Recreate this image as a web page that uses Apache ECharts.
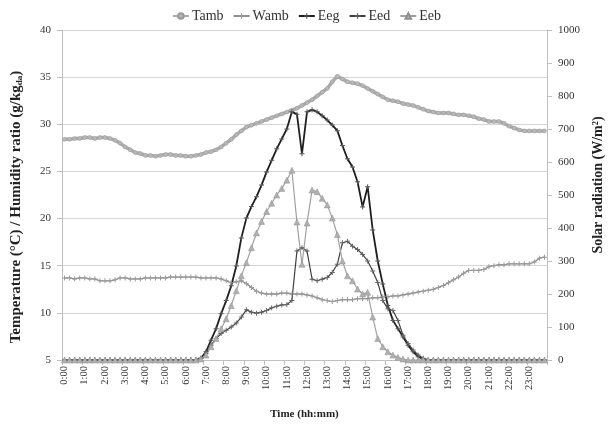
<!DOCTYPE html>
<html>
<head>
<meta charset="utf-8">
<script src="https://cdn.jsdelivr.net/npm/echarts@6/dist/echarts.min.js"></script>
<style>
html,body{margin:0;padding:0;background:#fff;}
#chart{width:613px;height:427px;}
</style>
</head>
<body>
<div id="chart"></div>
<script>
// Time categories: every 15 minutes, 0:00 .. 23:45
var times = [];
for (var h = 0; h < 24; h++) {
  ['00','15','30','45'].forEach(function(m){ times.push(h + ':' + m); });
}

var leftTicks = { min: 5, max: 40, interval: 5 };
var rightTicks = { min: 0, max: 1000, interval: 100 };

var tamb = [
  28.4,28.4,28.5,28.5, 28.6,28.6,28.5,28.6, 28.6,28.5,28.3,28.0, 27.6,27.3,27.0,26.9,
  26.7,26.7,26.6,26.7, 26.8,26.8,26.7,26.7, 26.6,26.6,26.7,26.8, 27.0,27.1,27.3,27.6,
  28.0,28.4,28.9,29.3, 29.7,29.9,30.1,30.3, 30.5,30.7,30.9,31.1, 31.3,31.5,31.7,32.0,
  32.3,32.6,33.0,33.4, 33.8,34.5,35.1,34.8, 34.5,34.4,34.3,34.1, 33.8,33.5,33.2,32.9,
  32.6,32.5,32.4,32.2, 32.1,32.0,31.8,31.6, 31.4,31.3,31.2,31.2, 31.2,31.1,31.0,31.0,
  30.9,30.8,30.6,30.5, 30.3,30.3,30.3,30.1, 29.8,29.6,29.4,29.3, 29.3,29.3,29.3,29.3
];
var wamb = [
  13.7,13.7,13.6,13.7, 13.7,13.6,13.6,13.4, 13.4,13.4,13.5,13.7, 13.7,13.6,13.6,13.6,
  13.7,13.7,13.7,13.7, 13.7,13.8,13.8,13.8, 13.8,13.8,13.8,13.7, 13.7,13.7,13.7,13.6,
  13.4,13.2,13.3,13.4, 13.1,12.7,12.3,12.1, 12.0,12.0,12.0,12.1, 12.1,12.0,12.0,12.0,
  11.9,11.8,11.6,11.4, 11.3,11.2,11.3,11.4, 11.4,11.4,11.5,11.5, 11.5,11.6,11.6,11.7,
  11.7,11.8,11.8,11.9, 12.0,12.1,12.2,12.3, 12.4,12.5,12.7,12.9, 13.2,13.5,13.8,14.2,
  14.5,14.5,14.5,14.6, 14.9,15.0,15.1,15.1, 15.2,15.2,15.2,15.2, 15.2,15.4,15.8,15.9
];
var eeg = [
  0,0,0,0, 0,0,0,0, 0,0,0,0, 0,0,0,0, 0,0,0,0, 0,0,0,0,
  0,0,0,5, 25,60,95,140, 180,225,285,370, 430,465,495,530,
  570,605,640,670, 700,752,745,625, 752,758,752,740, 727,712,695,650,
  610,585,540,464, 525,394,300,230, 165,120,95,70, 45,25,10,3,
  0,0,0,0, 0,0,0,0, 0,0,0,0, 0,0,0,0, 0,0,0,0, 0,0,0,0
];
var eed = [
  0,0,0,0, 0,0,0,0, 0,0,0,0, 0,0,0,0, 0,0,0,0, 0,0,0,0,
  0,0,0,5, 20,45,65,80, 90,100,112,130, 152,145,142,145,
  150,158,163,167, 168,180,330,340, 330,245,240,245, 250,265,290,355,
  360,345,335,320, 300,270,235,180, 155,150,120,75, 50,30,15,5,
  0,0,0,0, 0,0,0,0, 0,0,0,0, 0,0,0,0, 0,0,0,0, 0,0,0,0
];
var eeb = [
  0,0,0,0, 0,0,0,0, 0,0,0,0, 0,0,0,0, 0,0,0,0, 0,0,0,0,
  0,0,0,3, 15,40,65,95, 125,165,210,255, 295,340,385,420,
  450,475,500,520, 545,575,418,290, 415,515,510,490, 470,430,380,300,
  255,240,215,200, 205,130,65,40, 25,15,8,3, 0,0,0,0,
  0,0,0,0, 0,0,0,0, 0,0,0,0, 0,0,0,0, 0,0,0,0, 0,0,0,0
];

var FONT = '"Liberation Serif", "Times New Roman", serif';
var PLUS = 'path://M4,0h2v4h4v2h-4v4h-2v-4h-4v-2h4z';

var chart = echarts.init(document.getElementById('chart'), null, {renderer: 'canvas'});
chart.setOption({
  animation: false,
  backgroundColor: '#fff',
  textStyle: { fontFamily: FONT },
  legend: {
    top: 4,
    left: 'center',
    itemWidth: 16,
    itemHeight: 7,
    itemGap: 9,
    textStyle: { fontFamily: FONT, fontSize: 14, color: '#333', padding: [0, 0, 0, -2] },
    data: ['Tamb', 'Wamb', 'Eeg', 'Eed', 'Eeb']
  },
  grid: { left: 62, right: 58, top: 30, bottom: 67 },
  xAxis: {
    type: 'category',
    data: times,
    boundaryGap: true,
    axisLine: { lineStyle: { color: '#bfbfbf' } },
    axisTick: { show: true, interval: 3, lineStyle: { color: '#bfbfbf' } },
    axisLabel: {
      interval: 3, rotate: 90, fontSize: 10.5, color: '#333', fontFamily: FONT, margin: 6
    },
    name: 'Time (hh:mm)',
    nameLocation: 'middle',
    nameGap: 49,
    nameTextStyle: { fontFamily: FONT, fontWeight: 'bold', fontSize: 11, color: '#222' }
  },
  yAxis: [
    {
      type: 'value',
      position: 'left',
      min: leftTicks.min, max: leftTicks.max, interval: leftTicks.interval,
      axisLine: { show: true, lineStyle: { color: '#bfbfbf' } },
      axisTick: { show: true, lineStyle: { color: '#bfbfbf' } },
      axisLabel: { fontSize: 11, color: '#333', fontFamily: FONT, margin: 11 },
      splitLine: { show: true, lineStyle: { color: '#d4d4d4' } },
      name: 'Temperature (°C) / Humidity ratio (g/kg{sub|da})',
      nameLocation: 'middle',
      nameRotate: 90,
      nameGap: 38,
      nameTextStyle: {
        fontFamily: FONT, fontWeight: 'bold', fontSize: 15, color: '#222', padding: [0, 24, 0, 0],
        rich: { sub: { fontFamily: FONT, fontWeight: 'bold', fontSize: 9, verticalAlign: 'bottom', padding: [7, 0, 0, 0] } }
      }
    },
    {
      type: 'value',
      position: 'right',
      min: rightTicks.min, max: rightTicks.max, interval: rightTicks.interval,
      axisLine: { show: true, lineStyle: { color: '#bfbfbf' } },
      axisTick: { show: true, lineStyle: { color: '#bfbfbf' } },
      axisLabel: { fontSize: 11, color: '#333', fontFamily: FONT, margin: 11, formatter: function(v){ return String(v); } },
      splitLine: { show: false },
      name: 'Solar radiation (W/m²)',
      nameLocation: 'middle',
      nameRotate: 90,
      nameGap: 44,
      nameTextStyle: { fontFamily: FONT, fontWeight: 'bold', fontSize: 14, color: '#222', padding: [0, 0, 0, 20] }
    }
  ],
  series: [
    {
      name: 'Tamb', type: 'line', yAxisIndex: 0, data: tamb,
      showAllSymbol: true, symbol: 'circle', symbolSize: 4,
      lineStyle: { color: '#ababab', width: 3.5 },
      itemStyle: { color: '#b8b8b8', borderColor: '#999', borderWidth: 0.5 }
    },
    {
      name: 'Wamb', type: 'line', yAxisIndex: 0, data: wamb,
      showAllSymbol: true, symbol: PLUS, symbolSize: 5,
      lineStyle: { color: '#8c8c8c', width: 1.3 },
      itemStyle: { color: '#9a9a9a' }
    },
    {
      name: 'Eeg', type: 'line', yAxisIndex: 1, data: eeg,
      showAllSymbol: true, symbol: PLUS, symbolSize: 5,
      lineStyle: { color: '#1e1e1e', width: 1.8 },
      itemStyle: { color: '#555' }
    },
    {
      name: 'Eed', type: 'line', yAxisIndex: 1, data: eed,
      showAllSymbol: true, symbol: PLUS, symbolSize: 5,
      lineStyle: { color: '#404040', width: 1.2 },
      itemStyle: { color: '#666' }
    },
    {
      name: 'Eeb', type: 'line', yAxisIndex: 1, data: eeb,
      showAllSymbol: true, symbol: 'triangle', symbolSize: 6,
      lineStyle: { color: '#a0a0a0', width: 1.2 },
      itemStyle: { color: '#b0b0b0', borderColor: '#909090', borderWidth: 0.5 }
    }
  ]
});
</script>
</body>
</html>
